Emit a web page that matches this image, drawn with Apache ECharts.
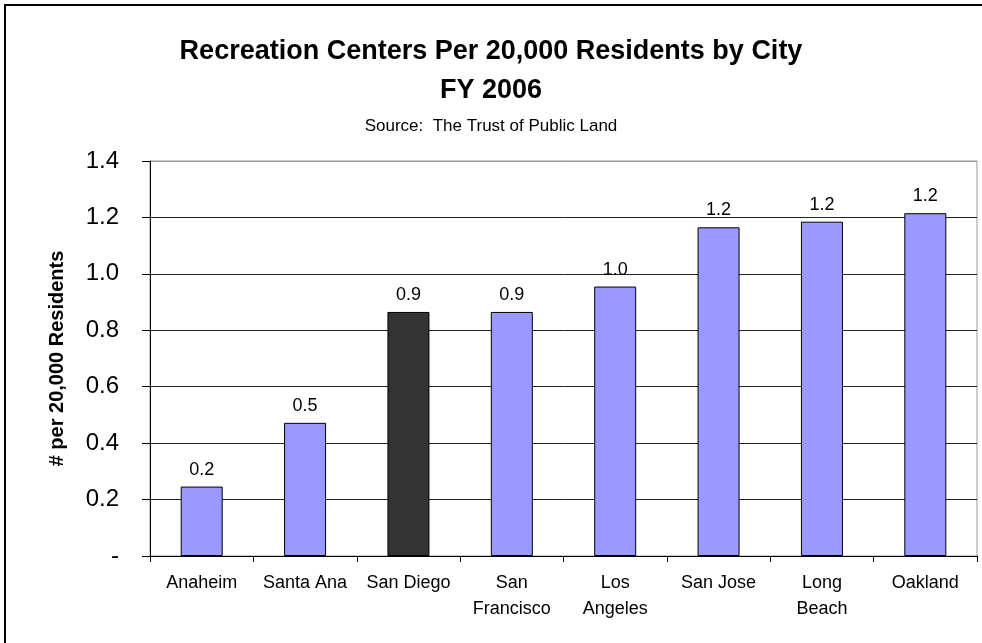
<!DOCTYPE html>
<html>
<head>
<meta charset="utf-8">
<script src="https://cdn.jsdelivr.net/npm/echarts@6/dist/echarts.min.js"></script>
<style>
  html, body { margin: 0; padding: 0; background: #fff; }
  #main { width: 982px; height: 643px; }
</style>
</head>
<body>
<div id="main"></div>
<script>
// data
var cities = ['Anaheim', 'Santa Ana', 'San Diego', 'San\nFrancisco', 'Los\nAngeles', 'San Jose', 'Long\nBeach', 'Oakland'];
var centersPer20k = [0.246, 0.472, 0.865, 0.865, 0.955, 1.165, 1.185, 1.215];
var highlightCity = 'San Diego';

var font = "'Liberation Sans', Arial, sans-serif";
var chart = echarts.init(document.getElementById('main'));

var option = {
  backgroundColor: '#fff',
  animation: false,
  textStyle: { fontFamily: font, color: '#000' },
  title: [
    {
      text: 'Recreation Centers Per 20,000 Residents by City\nFY 2006',
      left: 'center',
      top: 27,
      textStyle: { fontFamily: font, fontSize: 27, fontWeight: 'bold', color: '#000', lineHeight: 39 }
    },
    {
      text: 'Source:  The Trust of Public Land',
      left: 'center',
      top: 111,
      textStyle: { fontFamily: font, fontSize: 17, fontWeight: 'normal', color: '#000', lineHeight: 20 }
    }
  ],
  graphic: [
    {
      type: 'rect',
      shape: { x: 5, y: 5, width: 1000, height: 700 },
      style: { fill: 'none', stroke: '#000', lineWidth: 2 },
      silent: true
    }
  ],
  grid: {
    left: 150, right: 5, top: 161, bottom: 87,
    show: true, borderColor: '#999', borderWidth: 1
  },
  xAxis: {
    type: 'category',
    data: cities,
    axisLine: { lineStyle: { color: '#000', width: 1 } },
    axisTick: { show: true, length: 6, lineStyle: { color: '#000' } },
    axisLabel: { fontFamily: font, fontSize: 18, color: '#000', lineHeight: 26, margin: 14, interval: 0 }
  },
  yAxis: {
    type: 'value',
    min: 0, max: 1.4, interval: 0.2,
    name: '# per 20,000 Residents',
    nameLocation: 'middle',
    nameGap: 83,
    nameTextStyle: { fontFamily: font, fontSize: 20, fontWeight: 'bold', color: '#000' },
    axisLine: { show: true, lineStyle: { color: '#000', width: 1 } },
    axisTick: { show: true, length: 8, lineStyle: { color: '#000' } },
    axisLabel: {
      fontFamily: font, fontSize: 24, color: '#000', margin: 31,
      formatter: function (v) { return v === 0 ? '-' : v.toFixed(1); }
    },
    splitLine: {
      show: true,
      lineStyle: { color: ['#000', '#222', '#222', '#222', '#222', '#222', '#222', '#999'], width: 1 }
    }
  },
  series: [
    {
      type: 'bar',
      data: centersPer20k,
      barWidth: 42,
      itemStyle: {
        color: function (p) { return p.name === highlightCity ? '#333333' : '#9999FF'; },
        borderColor: '#000',
        borderWidth: 1
      },
      label: {
        show: true,
        position: 'top',
        distance: 8,
        fontFamily: font,
        fontSize: 18,
        color: '#000',
        formatter: function (p) { return p.value.toFixed(1); }
      }
    }
  ]
};

chart.setOption(option);
</script>
</body>
</html>
